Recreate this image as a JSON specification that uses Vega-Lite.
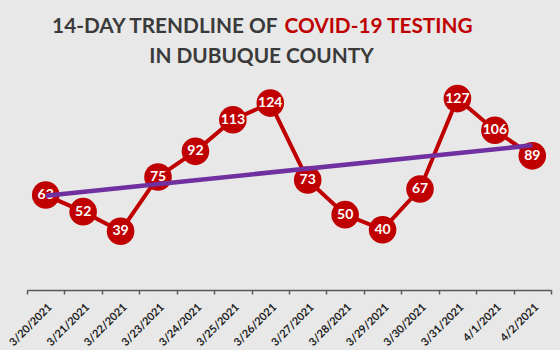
{
  "$schema": "https://vega.github.io/schema/vega-lite/v6.json",
  "autosize": {"type": "none"},
  "width": 524,
  "height": 211,
  "padding": {"left": 27, "top": 79, "right": 9, "bottom": 60},
  "background": "#e8e8e8",
  "config": {"view": {"stroke": null}},
  "datasets": {
    "tests": [
      {"date": "3/20/2021", "day": 1, "count": 63},
      {"date": "3/21/2021", "day": 2, "count": 52},
      {"date": "3/22/2021", "day": 3, "count": 39},
      {"date": "3/23/2021", "day": 4, "count": 75},
      {"date": "3/24/2021", "day": 5, "count": 92},
      {"date": "3/25/2021", "day": 6, "count": 113},
      {"date": "3/26/2021", "day": 7, "count": 124},
      {"date": "3/27/2021", "day": 8, "count": 73},
      {"date": "3/28/2021", "day": 9, "count": 50},
      {"date": "3/29/2021", "day": 10, "count": 40},
      {"date": "3/30/2021", "day": 11, "count": 67},
      {"date": "3/31/2021", "day": 12, "count": 127},
      {"date": "4/1/2021", "day": 13, "count": 106},
      {"date": "4/2/2021", "day": 14, "count": 89}
    ]
  },
  "data": {"name": "tests"},
  "resolve": {"axis": {"x": "independent", "y": "independent"}},
  "layer": [
    {
      "mark": {"type": "line", "color": "#C00000", "strokeWidth": 4},
      "encoding": {
        "x": {
          "field": "date", "type": "ordinal", "sort": null,
          "scale": {"type": "band", "paddingInner": 0, "paddingOuter": 0},
          "axis": {
            "orient": "bottom", "title": null, "tickBand": "extent",
            "domainColor": "#595959", "domainWidth": 1.5, "tickColor": "#595959", "tickWidth": 1.5, "tickSize": 4,
            "labelAngle": -45, "labelFont": "Lato", "labelFontSize": 11, "labelFontWeight": "bold",
            "labelColor": "#1e1e1e", "labelPadding": 7, "grid": false
          }
        },
        "y": {
          "field": "count", "type": "quantitative",
          "scale": {"domain": [0, 140], "nice": false},
          "axis": {
            "orient": "left", "domain": false, "ticks": false, "labels": false, "grid": false,
            "title": "14-DAY TRENDLINE OF", "titleAngle": 0, "titleX": 250, "titleY": -47,
            "titleAlign": "right", "titleBaseline": "alphabetic", "titleFont": "Lato",
            "titleFontSize": 20.8, "titleFontWeight": "bold", "titleColor": "#3a3a3a"
          }
        }
      }
    },
    {
      "mark": {"type": "circle", "color": "#C00000", "opacity": 1, "size": 760},
      "encoding": {
        "x": {"field": "date", "type": "ordinal", "sort": null, "axis": null},
        "y": {"field": "count", "type": "quantitative", "axis": null}
      }
    },
    {
      "mark": {"type": "text", "color": "white", "font": "Lato", "fontSize": 14, "fontWeight": "bold", "align": "center", "baseline": "middle"},
      "encoding": {
        "x": {"field": "date", "type": "ordinal", "sort": null, "axis": null},
        "y": {"field": "count", "type": "quantitative", "axis": null},
        "text": {"field": "count", "type": "quantitative"}
      }
    },
    {
      "transform": [
        {"regression": "count", "on": "day"},
        {"lookup": "day", "from": {"data": {"name": "tests"}, "key": "day", "fields": ["date"]}}
      ],
      "mark": {"type": "line", "color": "#7030A0", "strokeWidth": 4.5},
      "encoding": {
        "x": {
          "field": "date", "type": "ordinal", "sort": null,
          "axis": {
            "orient": "top", "domain": false, "ticks": false, "labels": false, "grid": false,
            "title": "IN DUBUQUE COUNTY", "titleX": 234, "titleY": -17,
            "titleAlign": "center", "titleAnchor": null, "titleBaseline": "alphabetic", "titleFont": "Lato",
            "titleFontSize": 20.8, "titleFontWeight": "bold", "titleColor": "#3a3a3a"
          }
        },
        "y": {
          "field": "count", "type": "quantitative",
          "axis": {
            "orient": "right", "domain": false, "ticks": false, "labels": false, "grid": false,
            "title": "COVID-19 TESTING", "titleAngle": 0, "titleX": -267, "titleY": -47,
            "titleAlign": "left", "titleBaseline": "alphabetic", "titleFont": "Lato",
            "titleFontSize": 20.8, "titleFontWeight": "bold", "titleColor": "#C00000"
          }
        }
      }
    }
  ]
}
